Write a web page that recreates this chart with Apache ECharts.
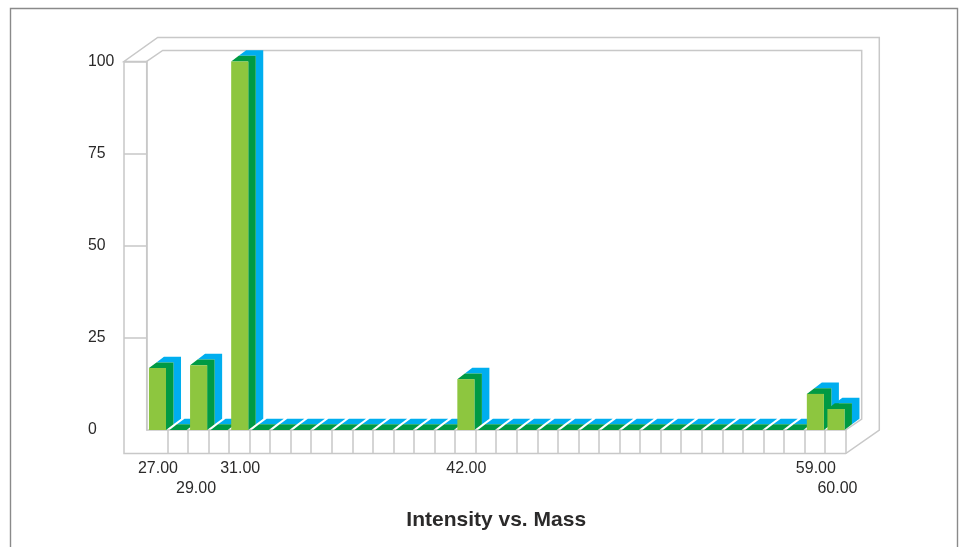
<!DOCTYPE html>
<html>
<head>
<meta charset="utf-8">
<style>html,body{margin:0;padding:0;background:#fff}#c{width:959px;height:547px}</style>
<script src="https://cdn.jsdelivr.net/npm/echarts@6/dist/echarts.min.js"></script>
</head>
<body>
<div id="c"></div>
<script>
var masses = ["27.00","28.00","29.00","30.00","31.00","32.00","33.00","34.00","35.00","36.00","37.00","38.00","39.00","40.00","41.00","42.00","43.00","44.00","45.00","46.00","47.00","48.00","49.00","50.00","51.00","52.00","53.00","54.00","55.00","56.00","57.00","58.00","59.00","60.00"];
var intensity = [16.8,0,17.6,0,100,0,0,0,0,0,0,0,0,0,0,13.8,0,0,0,0,0,0,0,0,0,0,0,0,0,0,0,0,9.8,5.7];
var upperLabels = ["27.00","31.00","42.00","59.00"];
var lowerLabels = ["29.00","60.00"];
var yTicks = [25,50,75,100];
var title = "Intensity vs. Mass";

var GRID = '#c8c8c8', TEXT = '#2b2a2a', FONT = '"Liberation Sans", Arial, sans-serif';
var FRONT = '#8dc63f', SIDE = '#009a44', BACK = '#00aeef';
var D1X = 7.5, D1Y = 5.65, LW = 1.5;

function renderBar(params, api) {
  var idx = api.value(0);
  var top = api.coord([idx, api.value(1)]);
  var base = api.coord([idx, 0]);
  var band = api.size([1, 0])[0];
  var w = band * 0.83;
  var x0 = top[0] - w / 2 + 0.5, x1 = x0 + w, t = top[1], b = base[1];
  function hex(dx, dy) {
    return [[x0 + dx, t - dy], [x0 + dx + D1X, t - dy - D1Y], [x1 + dx + D1X, t - dy - D1Y],
            [x1 + dx + D1X, b - dy - D1Y], [x1 + dx, b - dy], [x1 + dx, t - dy]];
  }
  return { type: 'group', children: [
    { type: 'polygon', shape: { points: hex(D1X, D1Y) }, style: { fill: BACK } },
    { type: 'polygon', shape: { points: hex(0, 0) }, style: { fill: SIDE } },
    { type: 'rect', shape: { x: x0, y: t, width: w, height: b - t }, style: { fill: FRONT } }
  ]};
}

function renderFrame(params, api) {
  var c = params.coordSys;
  var l = c.x, r = c.x + c.width, t = c.y, b = c.y + c.height;
  var dx = 16, dy = 11, ox = 22.7, oy = 23.5, tx = 33.7;
  var pl = function (pts) {
    return { type: 'polyline', shape: { points: pts }, style: { fill: null, stroke: GRID, lineWidth: LW } };
  };
  return { type: 'group', children: [
    pl([[l - ox, t], [l - ox, b + oy], [r, b + oy], [r + tx - 0.1, b], [r + tx - 0.1, t - 24], [l - ox + tx, t - 24], [l - ox, t], [l, t]]),
    pl([[l, b], [l, t], [l + dx, t - dy], [r + dx, t - dy], [r + dx, b - dy], [r, b]])
  ]};
}

function richLabel(padding) {
  return { color: TEXT, fontFamily: FONT, fontSize: 16, lineHeight: 20, padding: padding };
}

var chart = echarts.init(document.getElementById('c'), null, { renderer: 'canvas' });
chart.setOption({
  animation: false,
  backgroundColor: '#fff',
  grid: { left: 146.7, right: 113.3, top: 61.5, bottom: 117 },
  xAxis: {
    type: 'category',
    data: masses,
    z: 1,
    axisLine: { show: true, lineStyle: { color: GRID, width: LW } },
    axisTick: { show: true, length: 23.5, interval: function (i) { return i > 0; }, lineStyle: { color: GRID, width: LW } },
    splitLine: { show: false },
    axisLabel: {
      interval: 0, margin: 29, color: TEXT, fontFamily: FONT, fontSize: 16, lineHeight: 20,
      verticalAlign: 'top', hideOverlap: false,
      formatter: function (v) {
        if (v === '29.00') return '{l|}\n{w|' + v + '}';
        if (v === '60.00') return '{l|}\n{e|' + v + '}';
        if (upperLabels.indexOf(v) >= 0) return '{u|' + v + '}';
        return '';
      },
      rich: {
        l: richLabel([0, 0, 0, 0]),
        u: richLabel([0, 0, 0, 2]),
        w: richLabel([0, 4, 0, 0]),
        e: richLabel([0, 0, 0, 4])
      }
    },
    name: title,
    nameLocation: 'middle',
    nameGap: 80,
    nameTextStyle: { color: TEXT, fontFamily: FONT, fontSize: 21, fontWeight: 'bold' }
  },
  yAxis: {
    type: 'value', min: 0, max: 100, interval: 25,
    axisLine: { show: true, lineStyle: { color: GRID, width: LW } },
    axisTick: { show: true, length: 22.7, customValues: yTicks, lineStyle: { color: GRID, width: LW } },
    splitLine: { show: false },
    axisLabel: { margin: 58.7, align: 'left', color: TEXT, fontFamily: FONT, fontSize: 15.8, padding: [3, 0, 0, 0] }
  },
  graphic: [{
    type: 'polyline', silent: true, z: -1,
    shape: { points: [[10.5, 547], [10.5, 8.5], [957.5, 8.5], [957.5, 547]] },
    style: { fill: null, stroke: '#8a8a8a', lineWidth: 1.4 }
  }],
  series: [
    { type: 'custom', z: 0, silent: true, renderItem: renderFrame, data: [[0, 0]], encode: { x: 0, y: 1 }, clip: false },
    { type: 'custom', z: 5, renderItem: renderBar, clip: false, encode: { x: 0, y: 1 },
      data: intensity.map(function (v, i) { return [i, v]; }) }
  ]
});
</script>
</body>
</html>
